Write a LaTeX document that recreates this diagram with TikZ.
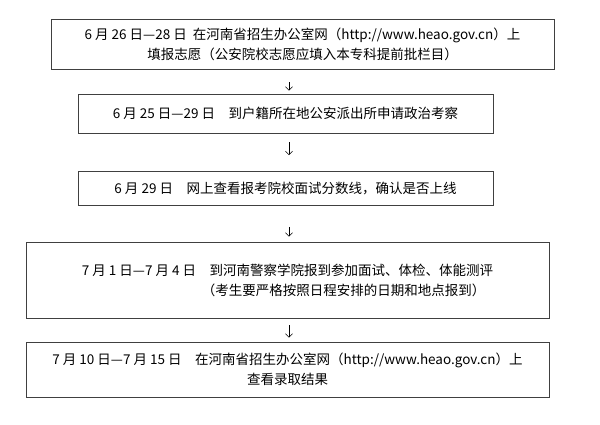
\documentclass[tikz,border=0pt]{standalone}
\usepackage{fontspec}
\setmainfont{Noto Sans CJK SC}
\usetikzlibrary{arrows.meta,positioning}

\begin{document}
\begin{tikzpicture}[
  x=1pt, y=-1pt,
  stage/.style={rectangle, draw=black!75, line width=0.8pt, inner sep=0pt, align=center, font=\fontsize{13.5}{20}\selectfont},
  flow/.style={-{Straight Barb[length=3.5pt, width=7pt]}, line width=0.6pt}
]
  \useasboundingbox (0,0) rectangle (600,424);
  % Stages, top to bottom
  \node[stage, minimum width=503pt, minimum height=50pt] (apply) at (302.5,44) {6 月 26 日—28 日\ \ 在河南省招生办公室网（http://www.heao.gov.cn）上\\填报志愿（公安院校志愿应填入本专科提前批栏目）};
  \node[stage, minimum width=415pt, minimum height=39pt] (police) at (285.5,113.5) {6 月 25 日—29 日　到户籍所在地公安派出所申请政治考察};
  \node[stage, minimum width=415pt, minimum height=34pt] (score) at (285.5,188.5) {6 月 29 日　网上查看报考院校面试分数线，确认是否上线};
  \node[stage, minimum width=523pt, minimum height=76pt, align=left] (exam) at (287.5,280) {7 月 1 日—7 月 4 日　到河南警察学院报到参加面试、体检、体能测评\\\hspace*{120pt}（考生要严格按照日程安排的日期和地点报到）};
  \node[stage, minimum width=523pt, minimum height=55pt] (result) at (287.5,369.5) {7 月 10 日—7 月 15 日　在河南省招生办公室网（http://www.heao.gov.cn）上\\查看录取结果};
  % Arrows between stages
  \coordinate (axis) at (289,0);
  \draw[flow, shorten <=13pt, shorten >=3pt] (apply.south -| axis) -- (police.north -| axis);
  \draw[flow, shorten <=9pt, shorten >=16pt] (police.south -| axis) -- (score.north -| axis);
  \draw[flow, shorten <=21pt, shorten >=5pt] (score.south -| axis) -- (exam.north -| axis);
  \draw[flow, shorten <=7pt, shorten >=4pt] (exam.south -| axis) -- (result.north -| axis);
\end{tikzpicture}
\end{document}
